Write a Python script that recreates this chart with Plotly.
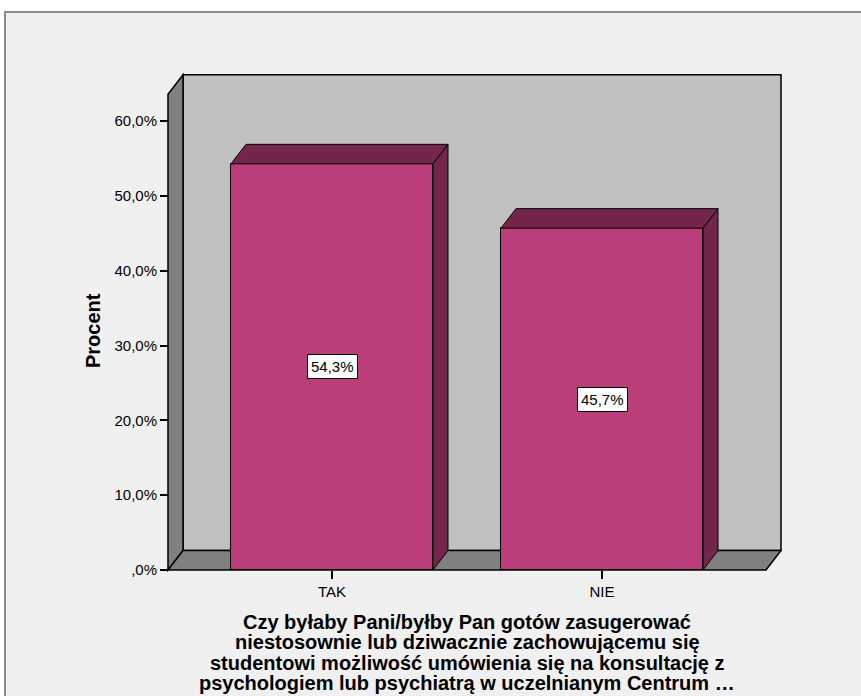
import plotly.graph_objects as go

# ---- data ----
categories = ["TAK", "NIE"]
percent = [54.3, 45.7]
value_labels = ["54,3%", "45,7%"]
y_tickvals = [0, 10, 20, 30, 40, 50, 60]
y_ticktext = [",0%", "10,0%", "20,0%", "30,0%", "40,0%", "50,0%", "60,0%"]
x_title_lines = [
    "Czy byłaby Pani/byłby Pan gotów zasugerować",
    "niestosownie lub dziwacznie zachowującemu się",
    "studentowi możliwość umówienia się na konsultację z",
    "psychologiem lub psychiatrą w uczelnianym Centrum …",
]
y_title = "Procent"

# ---- layout geometry (pixels) ----
W, H = 861, 696
L, R, T, B = 160, 790, 68, 578          # plot area
X0PX, XSTEP = 332, 270                   # px of category 0, px per category
Y0PX, YSTEP = 570, 7.48                  # px of 0 %, px per 1 %
DXPX, DYPX = 15, 19.5                    # 3D depth offset in px

def xdata(px):
    return (px - X0PX) / XSTEP

def ydata(py):
    return (Y0PX - py) / YSTEP

def pxp(px):
    return (px - L) / (R - L)

def pyp(py):
    return (B - py) / (B - T)

xrange_ = [xdata(L), xdata(R)]
yrange_ = [ydata(B), ydata(T)]
DX = DXPX / XSTEP
DY = DYPX / YSTEP
BAR_W = 202 / XSTEP
X_LEFT = xdata(168)          # left wall front edge
X_RIGHT_FRONT = xdata(766)   # floor front right
WALL_TOP = 63.6

FRONT = "#BB3E7A"
SIDE = "#74254B"
WALL = "#C0C0C0"
DARK = "#808080"
BG = "#F0F0F0"
FONT = "Liberation Sans, Arial, sans-serif"

xs = list(range(len(categories)))

fig = go.Figure()

# bar front faces
fig.add_trace(go.Bar(
    x=xs, y=percent, width=BAR_W,
    marker=dict(color=FRONT, line=dict(color="black", width=1)),
    hoverinfo="skip", showlegend=False,
))

# 3D side and top faces computed from data
for xc, v in zip(xs, percent):
    xl, xr = xc - BAR_W / 2, xc + BAR_W / 2
    fig.add_trace(go.Scatter(
        x=[xr, xr, xr + DX, xr + DX, xr], y=[0, v, v + DY, DY, 0],
        fill="toself", fillcolor=SIDE, mode="lines",
        line=dict(color="black", width=1), hoverinfo="skip", showlegend=False))
    fig.add_trace(go.Scatter(
        x=[xl, xr, xr + DX, xl + DX, xl], y=[v, v, v + DY, v + DY, v],
        fill="toself", fillcolor=SIDE, mode="lines",
        line=dict(color="black", width=1), hoverinfo="skip", showlegend=False))

shapes = [
    # outer frame
    dict(type="rect", xref="paper", yref="paper", layer="below",
         x0=pxp(5), x1=pxp(W + 20), y0=pyp(H + 20), y1=pyp(12),
         fillcolor=BG, line=dict(color="#8a8a8a", width=2)),
    # back wall
    dict(type="rect", xref="x", yref="y", layer="below",
         x0=X_LEFT + DX, x1=X_RIGHT_FRONT + DX, y0=DY, y1=WALL_TOP + DY,
         fillcolor=WALL, line=dict(color="black", width=1.5)),
    # left wall
    dict(type="path", xref="x", yref="y", layer="below",
         path=f"M {X_LEFT},0 L {X_LEFT},{WALL_TOP} L {X_LEFT + DX},{WALL_TOP + DY} "
              f"L {X_LEFT + DX},{DY} Z",
         fillcolor=DARK, line=dict(color="black", width=1.5)),
    # floor
    dict(type="path", xref="x", yref="y", layer="below",
         path=f"M {X_LEFT},0 L {X_RIGHT_FRONT},0 L {X_RIGHT_FRONT + DX},{DY} "
              f"L {X_LEFT + DX},{DY} Z",
         fillcolor=DARK, line=dict(color="black", width=1.5)),
]

annotations = [
    dict(x=xc, y=v / 2, xref="x", yref="y", text=lab, showarrow=False,
         font=dict(family=FONT, size=15, color="black"),
         bgcolor="white", bordercolor="black", borderwidth=1, borderpad=3)
    for xc, v, lab in zip(xs, percent, value_labels)
]

# y-axis title
annotations.append(dict(
    x=pxp(93), y=pyp(331), xref="paper", yref="paper", text="<b>" + y_title + "</b>",
    textangle=-90, showarrow=False, xanchor="center", yanchor="middle",
    font=dict(family=FONT, size=20, color="black")))

# x-axis title, one annotation per line (tight SPSS line spacing)
TITLE_X = (168 + 766) / 2
TITLE_Y0, TITLE_DY = 621.5, 20.6
for i, line in enumerate(x_title_lines):
    annotations.append(dict(
        x=pxp(TITLE_X), y=pyp(TITLE_Y0 + i * TITLE_DY), xref="paper", yref="paper",
        text="<b>" + line + "</b>", showarrow=False,
        xanchor="center", yanchor="middle",
        font=dict(family=FONT, size=20, color="black")))

fig.update_layout(
    width=W, height=H,
    margin=dict(l=L, r=W - R, t=T, b=H - B, autoexpand=False),
    paper_bgcolor="white", plot_bgcolor="rgba(0,0,0,0)",
    font=dict(family=FONT, size=15, color="black"),
    shapes=shapes, annotations=annotations,
    bargap=0, showlegend=False,
    xaxis=dict(range=xrange_, tickvals=xs, ticktext=categories,
               showgrid=False, zeroline=False, showline=False,
               ticks="outside", ticklen=8, tickcolor="black", tickwidth=1.5,
               anchor="free", position=pyp(Y0PX),
               tickfont=dict(size=15)),
    yaxis=dict(range=yrange_, tickvals=y_tickvals, ticktext=y_ticktext,
               showgrid=False, zeroline=False, showline=False,
               ticks="outside", ticklen=8, tickcolor="black", tickwidth=1.5,
               anchor="free", position=pxp(168),
               tickfont=dict(size=15)),
)

fig.write_html("out.html")
